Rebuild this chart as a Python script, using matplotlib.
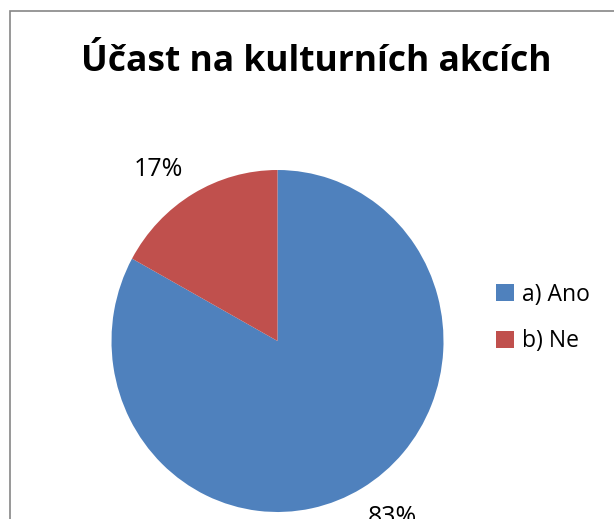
import matplotlib
matplotlib.use('Agg')
import matplotlib.pyplot as plt
from matplotlib.patches import Rectangle, Patch

labels = ['a) Ano', 'b) Ne']
values = [83, 17]
colors = ['#4F81BD', '#C0504D']

W, H = 614, 519
fig = plt.figure(figsize=(W / 100, H / 100), dpi=100)

# chart area border (runs off the right and bottom of the picture)
fig.add_artist(Rectangle((9.5 / W, -0.1), 1.2, 1 - 10.5 / H + 0.1,
                         transform=fig.transFigure, fill=False,
                         edgecolor='#868686', linewidth=1.2))

fig.text(316 / W, 1 - 62 / H, 'Účast na kulturních akcích', ha='center', va='center',
         fontsize=25.5, fontweight='bold', family='Open Sans')

# pie: center (277.5, 341) px, slightly taller than wide like the original
rx, ry = 166, 171
cx, cy = 277.5, 341
ax = fig.add_axes([(cx - rx) / W, (H - cy - ry) / H, 2 * rx / W, 2 * ry / H])
wedges, _ = ax.pie(values, colors=colors, startangle=90, counterclock=False, radius=1)
ax.set_xlim(-1, 1)
ax.set_ylim(-1, 1)
ax.set_aspect('auto')
ax.axis('off')

pct_pos = [(0.69, -1.03), (-0.72, 1.0)]
for v, (x, y) in zip(values, pct_pos):
    ax.text(x, y, f'{v}%', ha='center', va='center', fontsize=18,
            family='Open Sans', clip_on=False)

handles = [Patch(facecolor=c, edgecolor='none') for c in colors]
fig.legend(handles, labels, loc='center left', bbox_to_anchor=(496 / W, 1 - 318 / H),
           frameon=False, handlelength=0.8, handleheight=0.8, handletextpad=0.35,
           labelspacing=1.0, borderaxespad=0, borderpad=0,
           prop={'family': 'Open Sans', 'size': 16.5})

fig.savefig('out.png', dpi=100)
